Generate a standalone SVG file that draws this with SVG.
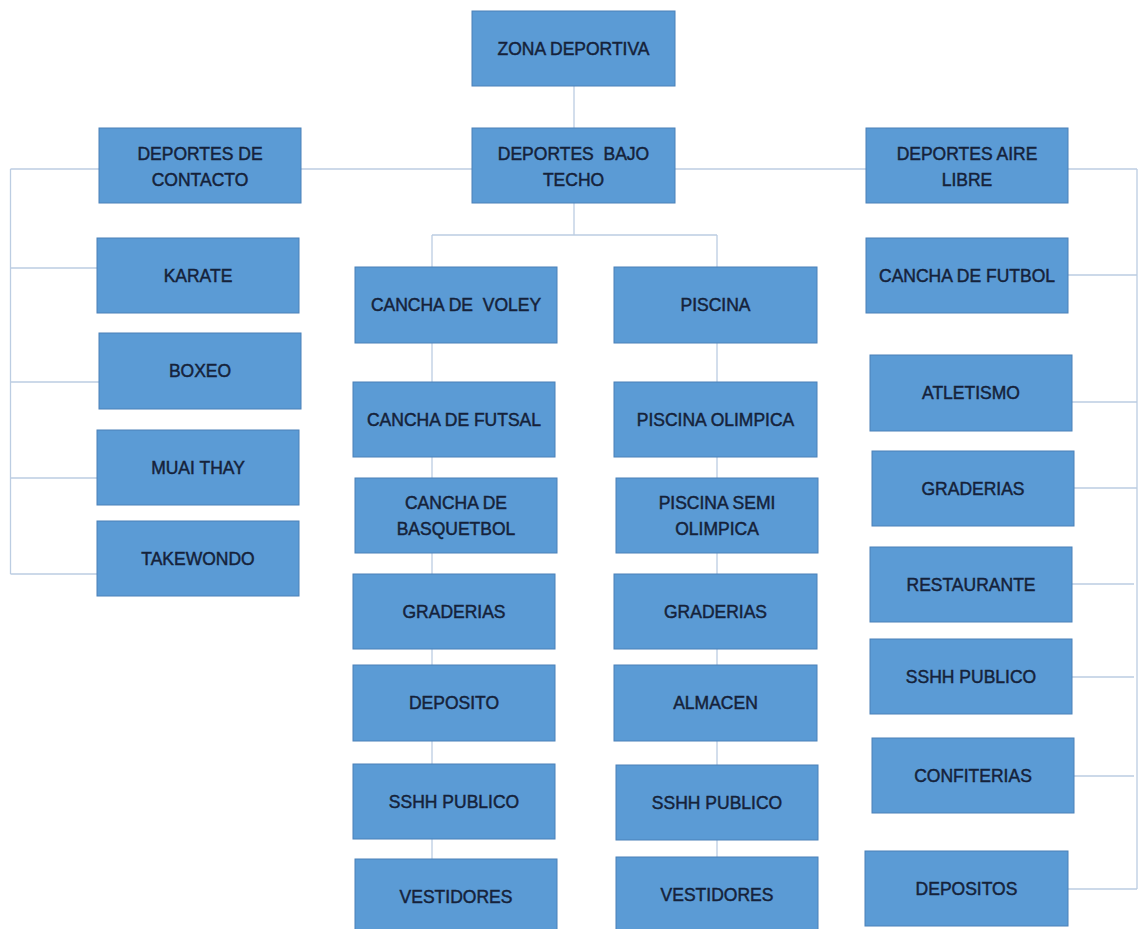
<svg xmlns="http://www.w3.org/2000/svg" width="1138" height="929" viewBox="0 0 1138 929">
<style>
.bg{fill:#ffffff}
.box{fill:#5b9bd5;stroke:#4a80b8;stroke-width:1}
.lbl{font-family:"Liberation Sans",Arial,sans-serif;font-size:17.5px;fill:#15223a;stroke:#15223a;stroke-width:0.45;text-anchor:middle;white-space:pre}
.ln{stroke:#bccde2;stroke-width:1.3;fill:none}
</style>
<rect class="bg" x="0" y="0" width="1138" height="929"/>
<g id="connectors">
<path class="ln" d="M574 86V128"/>
<path class="ln" d="M10.5 169H1137"/>
<path class="ln" d="M10.5 169V574M10.5 268H97M10.5 382H99M10.5 478H97M10.5 574H97"/>
<path class="ln" d="M574 203V235M432 235H717M432 235V267M717 235V267"/>
<path class="ln" d="M432 342V859"/>
<path class="ln" d="M717 342V857"/>
<path class="ln" d="M1137 169V889M1068 275H1137M1072 402H1137M1074 488H1137M1072 584H1134M1072 677H1134M1074 776H1134M1068 889H1137"/>
</g>
<g id="n-zona"><rect class="box" x="472" y="11" width="203" height="75"/><text class="lbl" x="573.5" y="54.5">ZONA DEPORTIVA</text></g>
<g id="n-contacto"><rect class="box" x="99" y="128" width="202" height="75"/><text class="lbl" x="200" y="159.5">DEPORTES DE</text><text class="lbl" x="200" y="185.5">CONTACTO</text></g>
<g id="n-bajotecho"><rect class="box" x="472" y="128" width="203" height="75"/><text class="lbl" x="573.5" y="159.5">DEPORTES  BAJO</text><text class="lbl" x="573.5" y="185.5">TECHO</text></g>
<g id="n-airelibre"><rect class="box" x="866" y="128" width="202" height="75"/><text class="lbl" x="967" y="159.5">DEPORTES AIRE</text><text class="lbl" x="967" y="185.5">LIBRE</text></g>
<g id="n-karate"><rect class="box" x="97" y="238" width="202" height="75"/><text class="lbl" x="198" y="281.5">KARATE</text></g>
<g id="n-boxeo"><rect class="box" x="99" y="333" width="202" height="76"/><text class="lbl" x="200" y="377">BOXEO</text></g>
<g id="n-muaithay"><rect class="box" x="97" y="430" width="202" height="75"/><text class="lbl" x="198" y="473.5">MUAI THAY</text></g>
<g id="n-takewondo"><rect class="box" x="97" y="521" width="202" height="75"/><text class="lbl" x="198" y="564.5">TAKEWONDO</text></g>
<g id="n-voley"><rect class="box" x="355" y="267" width="202" height="76"/><text class="lbl" x="456" y="311">CANCHA DE  VOLEY</text></g>
<g id="n-futsal"><rect class="box" x="353" y="382" width="202" height="75"/><text class="lbl" x="454" y="425.5">CANCHA DE FUTSAL</text></g>
<g id="n-basquet"><rect class="box" x="355" y="478" width="202" height="75"/><text class="lbl" x="456" y="509">CANCHA DE</text><text class="lbl" x="456" y="535">BASQUETBOL</text></g>
<g id="n-graderias1"><rect class="box" x="353" y="574" width="202" height="75"/><text class="lbl" x="454" y="617.5">GRADERIAS</text></g>
<g id="n-deposito"><rect class="box" x="353" y="665" width="202" height="76"/><text class="lbl" x="454" y="709">DEPOSITO</text></g>
<g id="n-sshh1"><rect class="box" x="353" y="764" width="202" height="75"/><text class="lbl" x="454" y="807.5">SSHH PUBLICO</text></g>
<g id="n-vestidores1"><rect class="box" x="355" y="859" width="202" height="76"/><text class="lbl" x="456" y="903">VESTIDORES</text></g>
<g id="n-piscina"><rect class="box" x="614" y="267" width="203" height="76"/><text class="lbl" x="715.5" y="311">PISCINA</text></g>
<g id="n-olimpica"><rect class="box" x="614" y="382" width="203" height="75"/><text class="lbl" x="715.5" y="425.5">PISCINA OLIMPICA</text></g>
<g id="n-semiolimpica"><rect class="box" x="616" y="478" width="202" height="75"/><text class="lbl" x="717" y="509">PISCINA SEMI</text><text class="lbl" x="717" y="535">OLIMPICA</text></g>
<g id="n-graderias2"><rect class="box" x="614" y="574" width="203" height="75"/><text class="lbl" x="715.5" y="617.5">GRADERIAS</text></g>
<g id="n-almacen"><rect class="box" x="614" y="665" width="203" height="76"/><text class="lbl" x="715.5" y="709">ALMACEN</text></g>
<g id="n-sshh2"><rect class="box" x="616" y="765" width="202" height="75"/><text class="lbl" x="717" y="809">SSHH PUBLICO</text></g>
<g id="n-vestidores2"><rect class="box" x="616" y="857" width="202" height="78"/><text class="lbl" x="717" y="901">VESTIDORES</text></g>
<g id="n-futbol"><rect class="box" x="866" y="238" width="202" height="75"/><text class="lbl" x="967" y="281.5">CANCHA DE FUTBOL</text></g>
<g id="n-atletismo"><rect class="box" x="870" y="355" width="202" height="76"/><text class="lbl" x="971" y="399">ATLETISMO</text></g>
<g id="n-graderias3"><rect class="box" x="872" y="451" width="202" height="75"/><text class="lbl" x="973" y="494.5">GRADERIAS</text></g>
<g id="n-restaurante"><rect class="box" x="870" y="547" width="202" height="75"/><text class="lbl" x="971" y="590.5">RESTAURANTE</text></g>
<g id="n-sshh3"><rect class="box" x="870" y="639" width="202" height="75"/><text class="lbl" x="971" y="682.5">SSHH PUBLICO</text></g>
<g id="n-confiterias"><rect class="box" x="872" y="738" width="202" height="75"/><text class="lbl" x="973" y="781.5">CONFITERIAS</text></g>
<g id="n-depositos"><rect class="box" x="865" y="851" width="203" height="75"/><text class="lbl" x="966.5" y="894.5">DEPOSITOS</text></g>
</svg>
